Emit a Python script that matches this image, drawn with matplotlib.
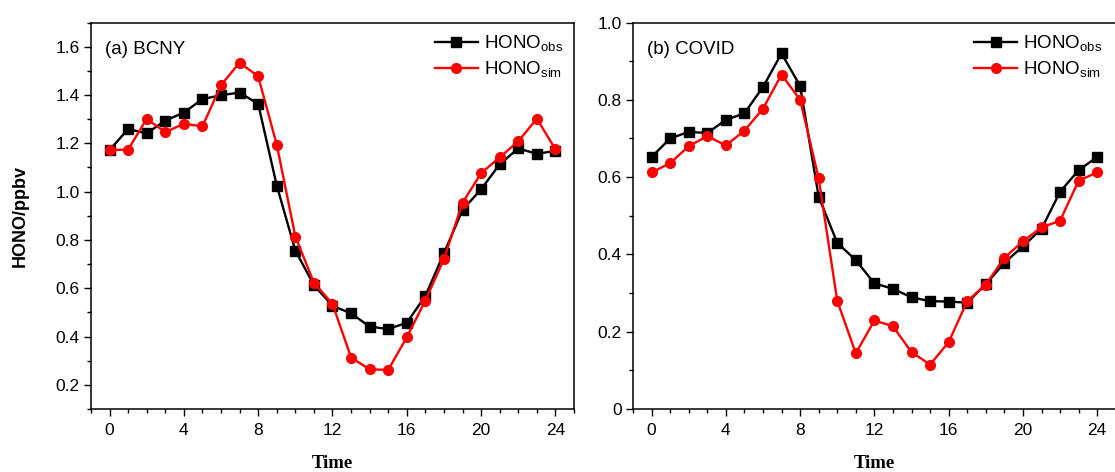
import numpy as np
import matplotlib.pyplot as plt
from matplotlib.ticker import MultipleLocator, FuncFormatter

plt.rcParams['font.family'] = ['Liberation Sans', 'DejaVu Sans']
plt.rcParams['mathtext.fontset'] = 'custom'
plt.rcParams['mathtext.rm'] = 'Liberation Sans'

hours = list(range(25))

# (a) BCNY
bcny_obs = [1.172, 1.259, 1.241, 1.294, 1.327, 1.383, 1.399, 1.410, 1.363, 1.025,
            0.756, 0.613, 0.527, 0.496, 0.441, 0.431, 0.457, 0.568, 0.745, 0.924,
            1.010, 1.113, 1.179, 1.156, 1.169]
bcny_sim = [1.172, 1.174, 1.301, 1.246, 1.281, 1.270, 1.441, 1.534, 1.477, 1.194,
            0.814, 0.623, 0.535, 0.313, 0.264, 0.262, 0.397, 0.549, 0.721, 0.954,
            1.076, 1.142, 1.208, 1.302, 1.175]

# (b) COVID
covid_obs = [0.652, 0.700, 0.717, 0.714, 0.748, 0.765, 0.833, 0.920, 0.836, 0.549,
             0.430, 0.385, 0.325, 0.311, 0.289, 0.279, 0.278, 0.275, 0.323, 0.378,
             0.421, 0.466, 0.562, 0.618, 0.652]
covid_sim = [0.612, 0.636, 0.680, 0.706, 0.682, 0.720, 0.777, 0.865, 0.800, 0.597,
             0.280, 0.144, 0.229, 0.214, 0.147, 0.115, 0.173, 0.279, 0.322, 0.391,
             0.434, 0.470, 0.487, 0.591, 0.612]

panels = [("(a) BCNY", bcny_obs, bcny_sim, (0.1, 1.7), 1.0),
          ("(b) COVID", covid_obs, covid_sim, (0.0, 1.0), 0.995)]

fig = plt.figure(figsize=(11.15, 4.72), dpi=100)
ax1 = fig.add_axes([0.0816, 0.1335, 0.4332, 0.8188])
ax2 = fig.add_axes([0.5677, 0.1335, 0.4330, 0.8188])
axs = [ax1, ax2]

def yfmt(v, pos):
    if abs(v) < 1e-9:
        return "0"
    return f"{v:.1f}"

for ax, (title, obs, sim, ylim, leg_x) in zip(axs, panels):
    ax.plot(hours, obs, color='black', lw=1.7, marker='s', ms=6.5,
            label=r'HONO$_{\mathrm{obs}}$')
    ax.plot(hours, sim, color='red', lw=1.7, marker='o', ms=7,
            label=r'HONO$_{\mathrm{sim}}$')
    ax.set_xlim(-1, 25)
    ax.set_ylim(*ylim)
    ax.xaxis.set_major_locator(MultipleLocator(4))
    ax.xaxis.set_minor_locator(MultipleLocator(1))
    ax.yaxis.set_major_locator(MultipleLocator(0.2))
    ax.yaxis.set_minor_locator(MultipleLocator(0.1))
    ax.yaxis.set_major_formatter(FuncFormatter(yfmt))
    ax.tick_params(which='major', direction='out', length=5, width=1,
                   labelsize=12.5)
    ax.tick_params(axis='x', which='major', pad=5)
    ax.tick_params(axis='y', which='major', pad=3)
    ax.tick_params(which='minor', direction='out', length=3, width=1)
    for s in ax.spines.values():
        s.set_linewidth(1.1)
    ax.text(0.03, 0.93, title, transform=ax.transAxes, fontsize=13.5,
            va='center', ha='left')
    ax.legend(loc='upper right', frameon=False, fontsize=13.5, handlelength=2.3,
              handletextpad=0.3, labelspacing=0.3, borderaxespad=0.2,
              bbox_to_anchor=(leg_x, 1.0))
    ax.set_xlabel("Time", fontsize=13.5, fontweight='bold',
                  family=['Liberation Serif'], labelpad=12)

ax1.set_ylabel("HONO/ppbv", fontsize=13, fontweight='bold')
ax1.yaxis.set_label_coords(-0.128, 0.5)

fig.savefig("out.png", dpi=100)
